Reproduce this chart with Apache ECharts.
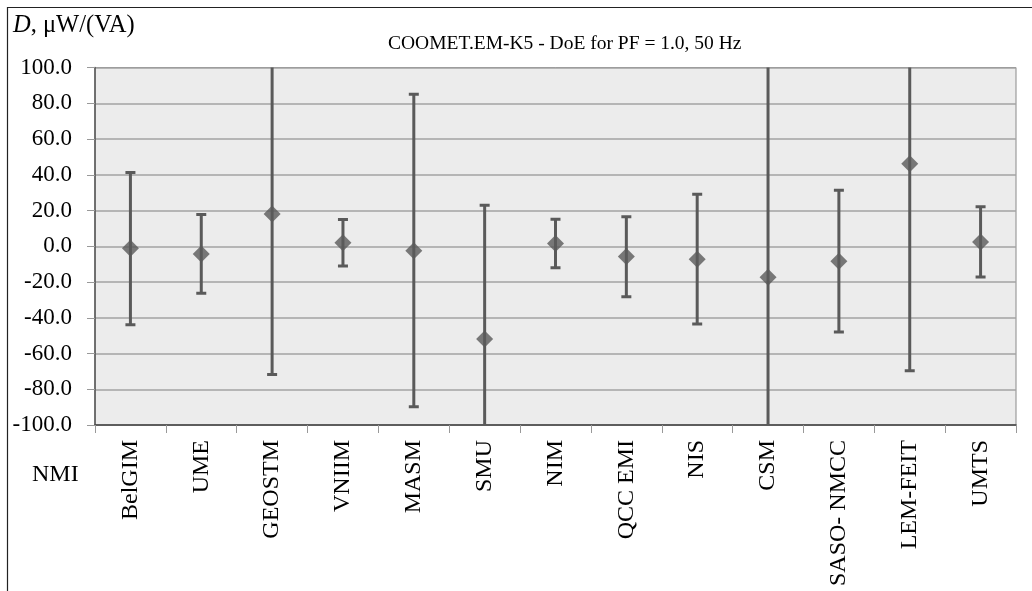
<!DOCTYPE html>
<html><head><meta charset="utf-8">
<script src="https://cdn.jsdelivr.net/npm/echarts@6/dist/echarts.min.js"></script>
<style>html,body{margin:0;padding:0;background:#fff}#c{width:1032px;height:591px}</style>
</head><body><div id="c"></div>
<script>
const categories = ['BelGIM','UME','GEOSTM','VNIIM','MASM','SMU','NIM','QCC EMI','NIS','CSM','SASO- NMCC','LEM-FEIT','UMTS'];
const doe   = [-1.1, -4.3, 18.0, 2.0, -2.5, -51.9, 1.6, -5.8, -7.3, -17.4, -8.4, 46.2, 2.4];
const upper = [41.2, 17.7, 107.7, 15.0, 85.0, 22.9, 15.1, 16.5, 29.1, 130.0, 31.3, 162.0, 22.1];
const lower = [-43.9, -26.3, -71.7, -11.0, -89.8, -126.7, -12.0, -28.2, -43.5, -165.0, -48.0, -69.6, -17.2];
const yTicks = [-100, -80, -60, -40, -20, 0, 20, 40, 60, 80, 100];

const FONT = '"Liberation Serif", "DejaVu Serif", serif';
const chart = echarts.init(document.getElementById('c'), null, {renderer:'canvas'});
const errData = categories.map((c,i)=>[i, lower[i], upper[i]]);
chart.setOption({
  animation:false,
  backgroundColor:'#ffffff',
  textStyle:{fontFamily:FONT},
  grid:{left:95, top:67.5, right:16, bottom:166, show:true, backgroundColor:'#ececec', borderColor:'#8a8a8a', borderWidth:1},
  title:{text:'COOMET.EM-K5 - DoE for PF = 1.0, 50 Hz', left:383, top:29,
    textStyle:{fontFamily:FONT, fontSize:19.5, fontWeight:'normal', color:'#000'}},
  graphic:[
    {type:'rect', shape:{x:7.5,y:7.5,width:1040,height:600}, style:{fill:'none', stroke:'#222', lineWidth:1.2}, silent:true, z:-1},
    {type:'text', left:13, top:13, style:{rich:{i:{fontFamily:FONT,fontSize:24.5,fontStyle:'italic',fill:'#000'}, n:{fontFamily:FONT,fontSize:24.5,fill:'#000'}}, text:'{i|D}{n|, μW/(VA)}'}},
    {type:'text', left:32, top:463, style:{text:'NMI', fontFamily:FONT, fontSize:24, fill:'#000'}}
  ],
  xAxis:{type:'category', data:categories, boundaryGap:true,
    axisLine:{show:true, onZero:false, lineStyle:{color:'#444', width:1.5}},
    axisTick:{show:true, length:8, inside:false, lineStyle:{color:'#999'}, alignWithLabel:false},
    axisLabel:{rotate:90, margin:15, fontFamily:FONT, fontSize:24, color:'#000', interval:0},
    splitLine:{show:false}},
  yAxis:{type:'value', min:-100, max:100, interval:20,
    axisLine:{show:true, lineStyle:{color:'#555', width:1.5}},
    axisTick:{show:true, length:8, lineStyle:{color:'#999'}},
    axisLabel:{margin:23, fontFamily:FONT, fontSize:23, color:'#000', formatter:v=>v.toFixed(1),
      customValues:yTicks},
    splitLine:{show:true, lineStyle:{color:'#a3a3a3', width:1.5}}},
  series:[
    {type:'custom', clip:true, data:errData, z:2,
     renderItem:function(params, api){
       const x = api.value(0);
       const lo = api.coord([x, api.value(1)]);
       const hi = api.coord([x, api.value(2)]);
       const cw = 5;
       const st = {stroke:'#5a5a5a', lineWidth:3};
       return {type:'group', children:[
         {type:'line', shape:{x1:lo[0],y1:lo[1],x2:hi[0],y2:hi[1]}, style:st},
         {type:'line', shape:{x1:lo[0]-cw,y1:lo[1],x2:lo[0]+cw,y2:lo[1]}, style:st},
         {type:'line', shape:{x1:hi[0]-cw,y1:hi[1],x2:hi[0]+cw,y2:hi[1]}, style:st}
       ]};
     }},
    {type:'scatter', data:doe, symbol:'diamond', symbolSize:[17,17], z:3,
     itemStyle:{color:'#5a5a5a'}}
  ]
});
</script></body></html>
